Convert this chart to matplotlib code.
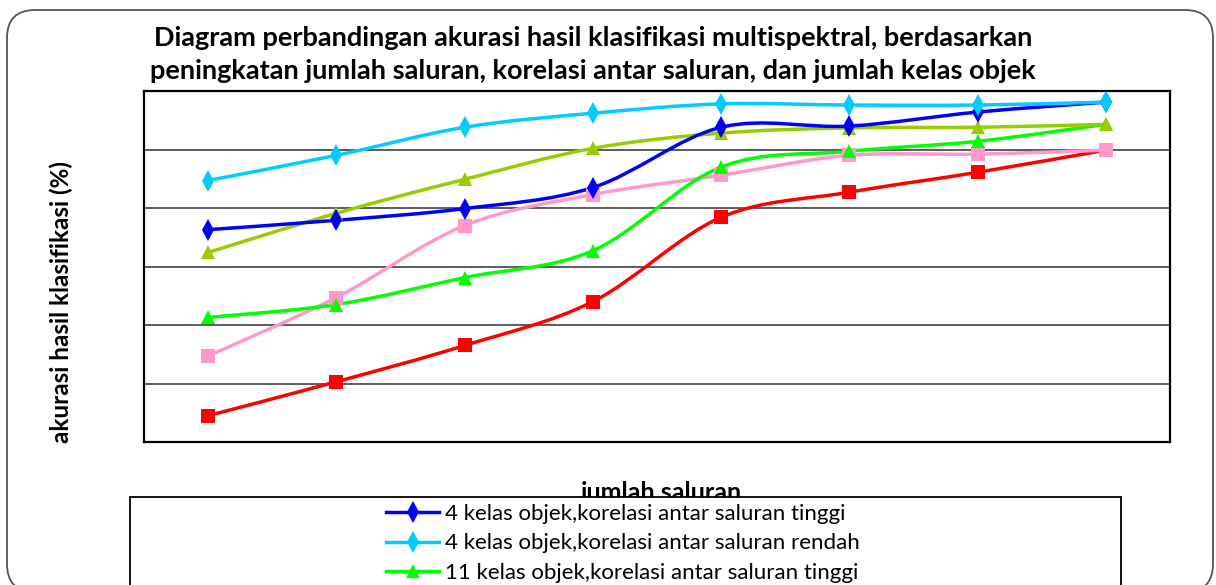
import matplotlib.pyplot as plt
import numpy as np
from matplotlib.path import Path
from matplotlib.patches import PathPatch, FancyBboxPatch, Rectangle
from matplotlib.lines import Line2D

plt.rcParams['font.family'] = ['Lato', 'DejaVu Sans']

# number of bands (categories on the x axis, no labels shown in the original)
saluran = [1, 2, 3, 4, 5, 6, 7, 8]

# accuracy values (%)
kelas4_tinggi = [76.3, 77.9, 79.9, 83.5, 93.8, 94.0, 96.4, 98.1]
kelas4_rendah = [84.7, 89.0, 93.8, 96.2, 97.8, 97.6, 97.6, 98.1]
kelas11_tinggi = [61.3, 63.5, 68.1, 72.7, 87.0, 89.7, 91.4, 94.3]
kelas11_rendah = [72.4, 79.1, 84.9, 90.2, 92.8, 93.7, 93.8, 94.3]
kelas20_tinggi = [44.5, 50.3, 56.5, 64.0, 78.4, 82.7, 86.1, 89.9]
kelas20_rendah = [54.7, 64.7, 77.0, 82.3, 85.6, 89.0, 89.2, 89.9]

series = [
    ('4 kelas objek,korelasi antar saluran tinggi', kelas4_tinggi, '#0000FF', 'd'),
    ('4 kelas objek,korelasi antar saluran rendah', kelas4_rendah, '#00CCFF', 'd'),
    ('11 kelas objek,korelasi antar saluran tinggi', kelas11_tinggi, '#00FF00', '^'),
    ('11 kelas objek,korelasi antar saluran rendah', kelas11_rendah, '#99CC00', '^'),
    ('20 kelas objek,korelasi antar saluran tinggi', kelas20_tinggi, '#FF0000', 's'),
    ('20 kelas objek,korelasi antar saluran rendah', kelas20_rendah, '#FF99CC', 's'),
]
draw_order = [4, 5, 2, 3, 0, 1]


def smooth_path(x, y):
    # excel-like smoothed line: bezier segments through every point
    pts = np.column_stack([x, y]).astype(float)
    ext = np.vstack([pts[0], pts, pts[-1]])
    verts = [pts[0]]
    codes = [Path.MOVETO]
    for i in range(len(pts) - 1):
        p0, p1, p2, p3 = ext[i], ext[i + 1], ext[i + 2], ext[i + 3]
        c1 = p1 + (p2 - p0) / 6.0
        c2 = p2 - (p3 - p1) / 6.0
        verts += [c1, c2, p2]
        codes += [Path.CURVE4] * 3
    return Path(verts, codes)


def marker_size(m):
    return 11 if m == 'd' else (10 if m == '^' else 9.5)


W, H = 1216, 585
fig = plt.figure(figsize=(W / 100, H / 100), dpi=100)

# background layer in pixel units: rounded frame, titles, legend box
bg = fig.add_axes([0, 0, 1, 1], zorder=0)
bg.set_xlim(0, W)
bg.set_ylim(H, 0)
bg.axis('off')
bg.add_patch(FancyBboxPatch((7, 10), 1206, 582, boxstyle='round,pad=0,rounding_size=28',
                            facecolor='white', edgecolor='#555555', lw=1.3))
bg.text(593, 46, 'Diagram perbandingan akurasi hasil klasifikasi multispektral, berdasarkan',
        ha='center', va='baseline', fontsize=19.5, fontweight='bold')
bg.text(593, 79, 'peningkatan jumlah saluran, korelasi antar saluran, dan jumlah kelas objek',
        ha='center', va='baseline', fontsize=19.5, fontweight='bold')
bg.text(61, 302, 'akurasi hasil klasifikasi (%)', ha='center', va='center',
        rotation=90, fontsize=17.5, fontweight='bold')
bg.text(661, 500, 'jumlah saluran', ha='center', va='baseline', fontsize=18,
        fontweight='bold', zorder=1)
bg.add_patch(Rectangle((130, 497), 991, 200, facecolor='white', edgecolor='black',
                       lw=1.3, zorder=2))

ax = fig.add_axes([144 / W, 1 - 442 / H, 1026 / W, 351 / H], zorder=1)
ax.set_xlim(0.5, 8.5)
ax.set_ylim(40, 100)
ax.set_yticks([50, 60, 70, 80, 90])
ax.set_xticks(saluran)
ax.tick_params(length=0, labelleft=False, labelbottom=False)
ax.grid(axis='y', color='#404040', lw=1.2)
ax.set_axisbelow(True)
for s in ax.spines.values():
    s.set_linewidth(1.6)
    s.set_color('black')

for k in draw_order:
    label, vals, color, marker = series[k]
    ax.add_patch(PathPatch(smooth_path(saluran, vals), facecolor='none',
                           edgecolor=color, lw=2.5, zorder=3))
    ax.plot(saluran, vals, linestyle='none', marker=marker, color=color,
            markersize=marker_size(marker), markeredgewidth=0, zorder=4)

handles = []
for label, vals, color, marker in series:
    handles.append(Line2D([], [], color=color, lw=2.5, marker=marker,
                          markersize=marker_size(marker), markeredgewidth=0, label=label))

fig.legend(handles=handles, loc='upper left', bbox_to_anchor=(386 / W, 1 - 504 / H),
           frameon=False, fontsize=16, handlelength=2.4, handletextpad=0.25,
           labelspacing=0.42, borderpad=0, borderaxespad=0)

fig.savefig('out.png', dpi=100)
